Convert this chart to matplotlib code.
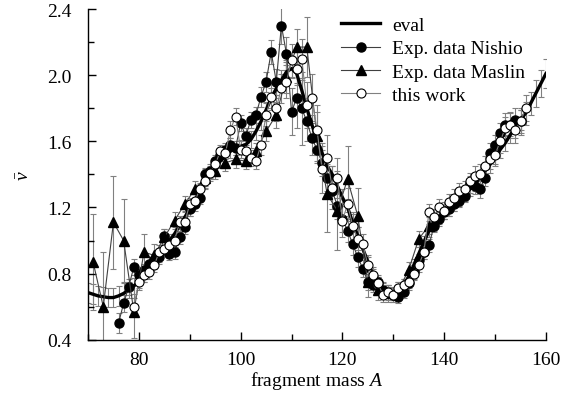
import numpy as np
import matplotlib
matplotlib.use("Agg")
import matplotlib.pyplot as plt
from matplotlib.ticker import MultipleLocator

# evaluation curve (thick line), one value per mass number
eval_A = list(range(70, 161))
eval_nu = [0.685, 0.675, 0.665, 0.66, 0.655, 0.655, 0.665, 0.68, 0.70, 0.725,
           0.75, 0.79, 0.83, 0.87, 0.91, 0.95, 1.00, 1.04, 1.09, 1.14,
           1.19, 1.24, 1.30, 1.35, 1.40, 1.44, 1.48, 1.51, 1.54, 1.56,
           1.57, 1.58, 1.61, 1.66, 1.72, 1.79, 1.86, 1.92, 1.97, 2.02,
           2.04, 2.01, 1.91, 1.80, 1.70, 1.61, 1.53, 1.45, 1.40, 1.33,
           1.26, 1.20, 1.11, 1.03, 0.95, 0.87, 0.79, 0.74, 0.71, 0.69,
           0.68, 0.69, 0.73, 0.78, 0.85, 0.92, 0.99, 1.06, 1.10, 1.14,
           1.17, 1.19, 1.22, 1.25, 1.28, 1.31, 1.34, 1.38, 1.42, 1.46,
           1.50, 1.55, 1.59, 1.64, 1.68, 1.73, 1.77, 1.83, 1.89, 1.95,
           2.01]
eval_err = [0.06, 0.06, 0.06, 0.06, 0.06, 0.06, 0.06, 0.06, 0.05, 0.05,
            0.04, 0.04, 0.04, 0.04, 0.04, 0.04, 0.04, 0.04, 0.04, 0.04,
            0.04, 0.04, 0.04, 0.04, 0.04, 0.04, 0.04, 0.04, 0.04, 0.04,
            0.04, 0.04, 0.05, 0.05, 0.05, 0.05, 0.06, 0.06, 0.06, 0.06,
            0.06, 0.06, 0.06, 0.06, 0.06, 0.06, 0.06, 0.05, 0.05, 0.05,
            0.05, 0.05, 0.05, 0.05, 0.05, 0.04, 0.04, 0.04, 0.04, 0.04,
            0.04, 0.04, 0.04, 0.04, 0.04, 0.04, 0.04, 0.04, 0.04, 0.04,
            0.04, 0.04, 0.04, 0.04, 0.04, 0.04, 0.04, 0.04, 0.04, 0.05,
            0.05, 0.05, 0.05, 0.05, 0.06, 0.06, 0.07, 0.07, 0.08, 0.08,
            0.09]

# Exp. data Nishio
nishio_A = list(range(76, 156))
nishio_nu = [0.50, 0.62, 0.72, 0.84, 0.79, 0.82, 0.86, 0.88, 0.90, 1.03,
             0.92, 0.93, 1.02, 1.08, 1.19, 1.22, 1.26, 1.40, 1.42, 1.48,
             1.52, 1.55, 1.58, 1.56, 1.71, 1.63, 1.73, 1.76, 1.87, 1.96,
             2.14, 1.96, 2.30, 2.13, 1.78, 1.86, 1.80, 1.72, 1.62, 1.55,
             1.47, 1.38, 1.30, 1.21, 1.13, 1.06, 0.98, 0.90, 0.83, 0.75,
             0.73, 0.75, 0.70, 0.68, 0.67, 0.66, 0.69, 0.74, 0.81, 0.88,
             0.93, 0.97, 1.09, 1.13, 1.17, 1.19, 1.22, 1.24, 1.27, 1.34,
             1.33, 1.31, 1.38, 1.53, 1.58, 1.65, 1.70, 1.70, 1.73, 1.72]
nishio_err = [0.06, 0.05, 0.05, 0.05, 0.04, 0.04, 0.04, 0.04, 0.04, 0.04,
              0.04, 0.04, 0.04, 0.04, 0.04, 0.04, 0.04, 0.04, 0.04, 0.04,
              0.04, 0.04, 0.04, 0.04, 0.05, 0.05, 0.05, 0.05, 0.06, 0.06,
              0.07, 0.08, 0.11, 0.10, 0.14, 0.18, 0.22, 0.12, 0.10, 0.08,
              0.08, 0.08, 0.08, 0.08, 0.08, 0.07, 0.07, 0.06, 0.05, 0.05,
              0.04, 0.04, 0.04, 0.04, 0.04, 0.04, 0.04, 0.04, 0.04, 0.04,
              0.04, 0.04, 0.04, 0.04, 0.04, 0.04, 0.04, 0.04, 0.04, 0.05,
              0.05, 0.05, 0.05, 0.06, 0.06, 0.06, 0.07, 0.07, 0.07, 0.07]

# Exp. data Maslin
maslin_A = list(range(71, 138, 2))
maslin_nu = [0.87, 0.60, 1.11, 1.00, 0.57, 0.93, 0.91, 1.02, 1.12, 1.22,
             1.31, 1.38, 1.42, 1.47, 1.49, 1.48, 1.54, 1.66, 1.76, 1.99,
             2.17, 2.17, 1.63, 1.28, 1.18, 1.37, 1.15, 0.75, 0.70, 0.68,
             0.70, 0.82, 1.01, 1.09]
maslin_err = [0.29, 0.33, 0.28, 0.25, 0.16, 0.11, 0.07, 0.05, 0.05, 0.05,
              0.05, 0.05, 0.05, 0.05, 0.05, 0.05, 0.05, 0.06, 0.08, 0.10,
              0.11, 0.18, 0.15, 0.23, 0.24, 0.20, 0.17, 0.09, 0.06, 0.05,
              0.05, 0.05, 0.05, 0.05]

# this work
work_A = list(range(79, 157))
work_nu = [0.60, 0.75, 0.79, 0.81, 0.85, 0.93, 0.95, 0.97, 1.00, 1.11,
           1.11, 1.22, 1.24, 1.31, 1.36, 1.41, 1.46, 1.54, 1.53, 1.67,
           1.75, 1.55, 1.54, 1.50, 1.48, 1.58, 1.76, 1.87, 1.80, 1.92,
           1.96, 2.09, 2.04, 2.10, 1.82, 1.86, 1.67, 1.43, 1.50, 1.32,
           1.38, 1.12, 1.22, 1.09, 1.01, 0.98, 0.85, 0.79, 0.74, 0.67,
           0.69, 0.67, 0.71, 0.73, 0.75, 0.80, 0.85, 0.93, 1.17, 1.14,
           1.20, 1.18, 1.23, 1.26, 1.30, 1.31, 1.36, 1.39, 1.40, 1.45,
           1.49, 1.52, 1.60, 1.68, 1.70, 1.67, 1.72, 1.80]
work_err = [0.05, 0.05, 0.04, 0.04, 0.04, 0.04, 0.04, 0.04, 0.04, 0.04,
            0.04, 0.04, 0.04, 0.04, 0.04, 0.04, 0.04, 0.04, 0.04, 0.05,
            0.05, 0.05, 0.05, 0.05, 0.05, 0.06, 0.07, 0.08, 0.08, 0.09,
            0.10, 0.10, 0.10, 0.12, 0.14, 0.15, 0.15, 0.14, 0.14, 0.13,
            0.12, 0.10, 0.10, 0.08, 0.07, 0.06, 0.05, 0.05, 0.04, 0.04,
            0.04, 0.04, 0.04, 0.04, 0.04, 0.04, 0.04, 0.04, 0.05, 0.05,
            0.05, 0.05, 0.05, 0.05, 0.05, 0.05, 0.05, 0.06, 0.06, 0.06,
            0.06, 0.06, 0.07, 0.07, 0.08, 0.08, 0.08, 0.08]

plt.rcParams['font.family'] = ['Liberation Serif', 'DejaVu Serif']
plt.rcParams['mathtext.fontset'] = 'custom'
plt.rcParams['mathtext.rm'] = 'Liberation Serif'
plt.rcParams['mathtext.it'] = 'Liberation Serif:italic'
plt.rcParams['font.size'] = 14

fig = plt.figure(figsize=(5.74, 4.06), dpi=100)
ax = fig.add_axes([0.1533, 0.1608, 0.7979, 0.8145])

ebar = dict(fmt='none', ecolor='0.5', elinewidth=0.8, capsize=2.5, capthick=0.8)
ax.errorbar(eval_A, eval_nu, yerr=eval_err, zorder=1, **ebar)
ax.errorbar(maslin_A, maslin_nu, yerr=maslin_err, zorder=1, **ebar)
ax.errorbar(nishio_A, nishio_nu, yerr=nishio_err, zorder=1, **ebar)
ax.errorbar(work_A, work_nu, yerr=work_err, zorder=1, **ebar)

ax.plot(eval_A, eval_nu, color='k', lw=2.4, zorder=3, label='eval')
ax.plot(nishio_A, nishio_nu, color='0.25', lw=0.8, marker='o', ms=6.5,
        mfc='k', mec='k', zorder=4, label='Exp. data Nishio')
ax.plot(maslin_A, maslin_nu, color='0.25', lw=0.8, marker='^', ms=7.5,
        mfc='k', mec='k', zorder=4, label='Exp. data Maslin')
ax.plot(work_A, work_nu, color='0.5', lw=0.8, marker='o', ms=6.5,
        mfc='white', mec='k', mew=0.8, zorder=5, label='this work')

ax.set_xlim(70, 160)
ax.set_ylim(0.4, 2.4)
ax.xaxis.set_major_locator(MultipleLocator(20))
ax.xaxis.set_minor_locator(MultipleLocator(10))
ax.yaxis.set_major_locator(MultipleLocator(0.4))
ax.yaxis.set_minor_locator(MultipleLocator(0.2))
ax.yaxis.set_major_formatter(matplotlib.ticker.FormatStrFormatter('%.1f'))
ax.tick_params(which='both', direction='in', width=1, top=False, right=False)
ax.tick_params(which='major', length=6)
ax.tick_params(which='minor', length=4)
ax.tick_params(axis='x', pad=8)
ax.tick_params(axis='y', pad=12)
for s in ['top', 'right']:
    ax.spines[s].set_visible(False)
for s in ['left', 'bottom']:
    ax.spines[s].set_linewidth(1)

ax.set_xlabel('fragment mass $A$', labelpad=1)
ax.set_ylabel(r'$\bar{\nu}$', labelpad=10)

ax.legend(loc='upper left', bbox_to_anchor=(0.553, 0.978), frameon=False,
          borderaxespad=0, borderpad=0, handlelength=2.0, handletextpad=0.6,
          labelspacing=0.3)

fig.savefig('out.png', dpi=100)
